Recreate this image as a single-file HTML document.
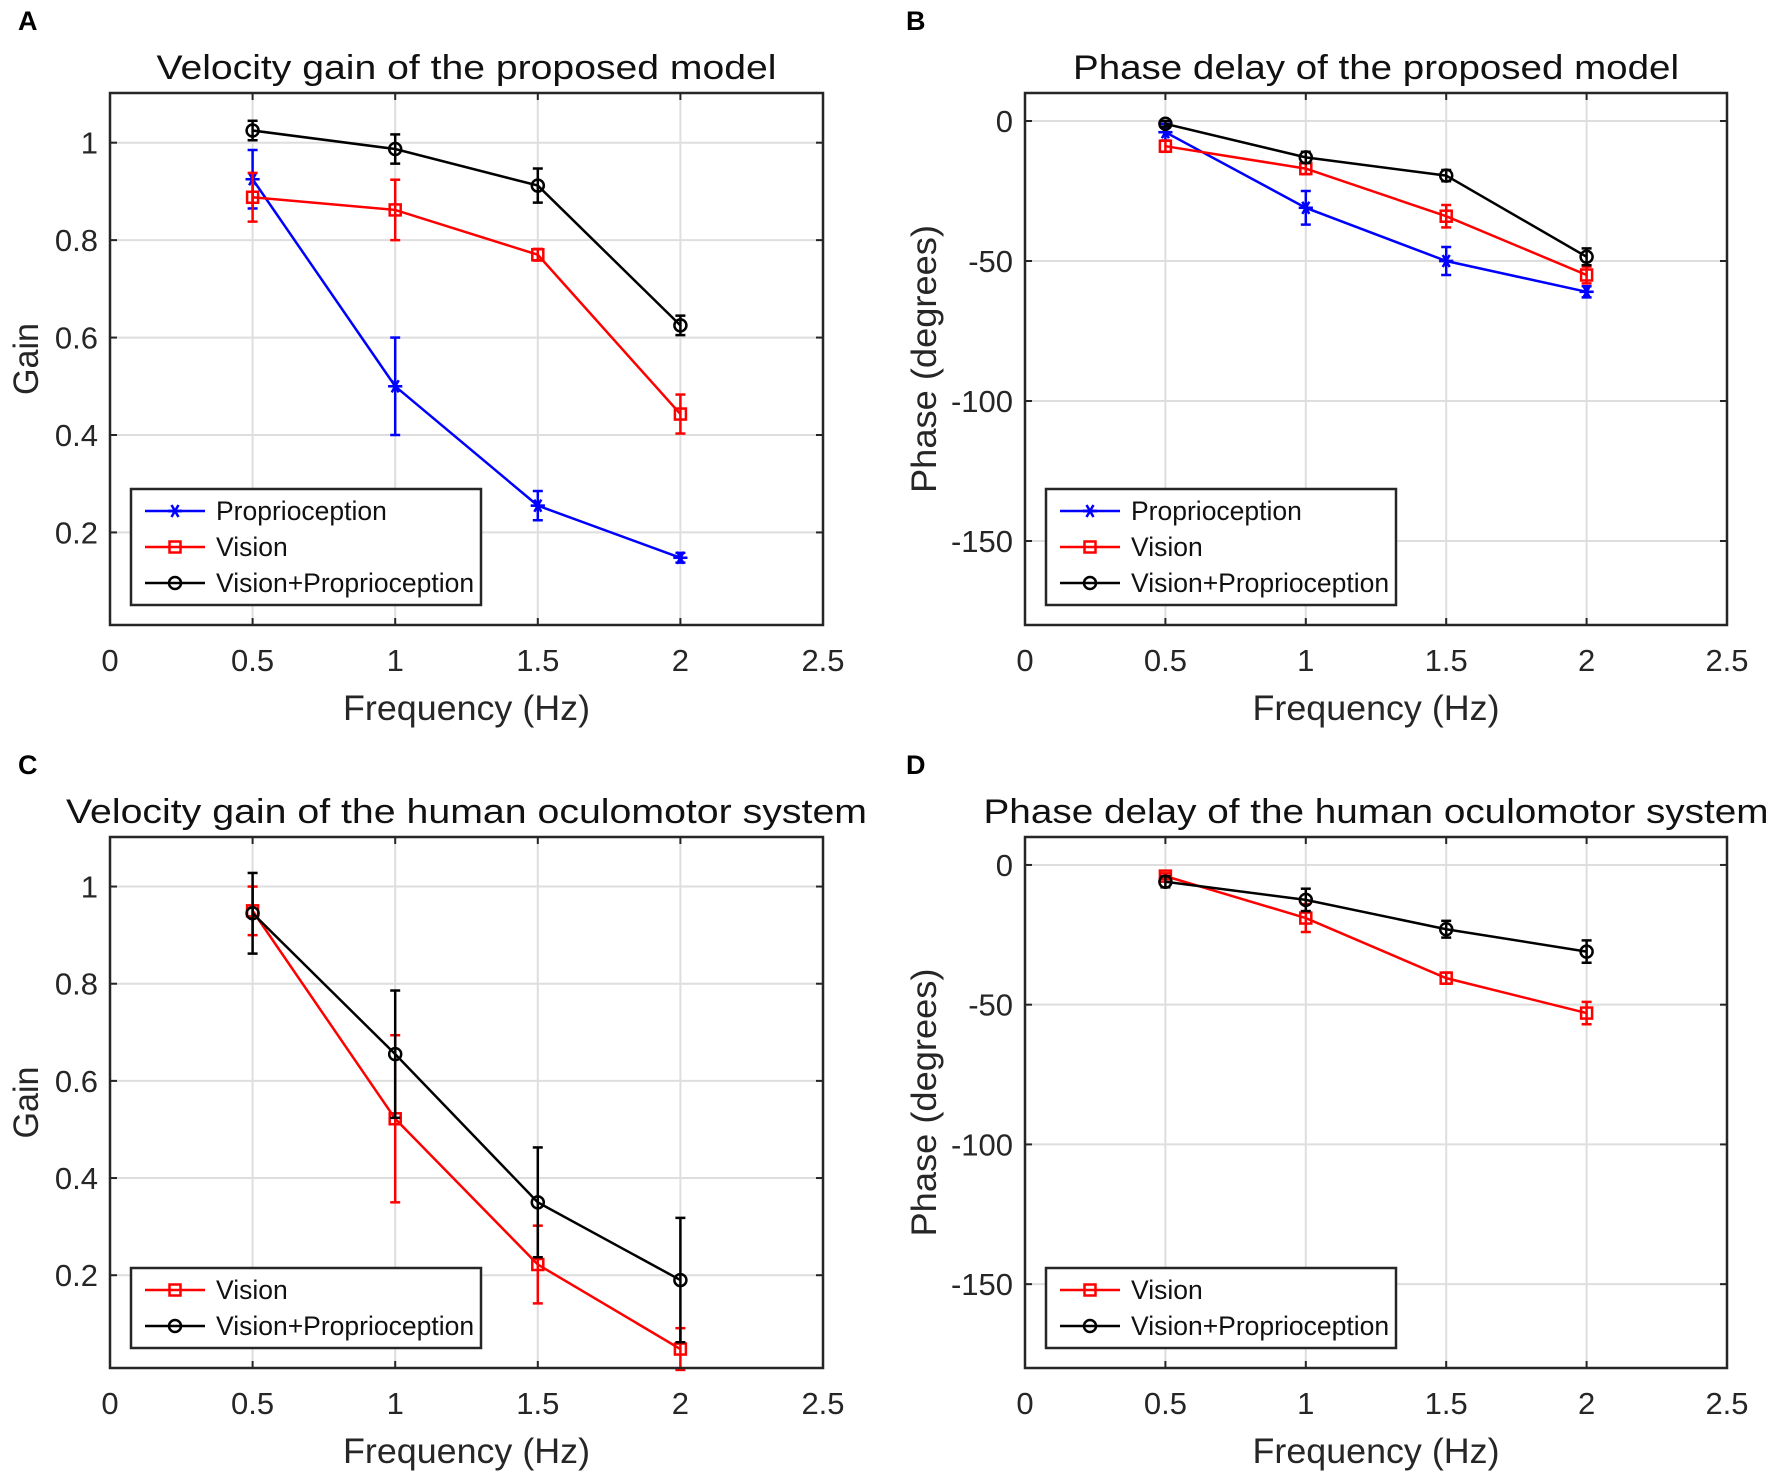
<!DOCTYPE html>
<html><head><meta charset="utf-8"><style>
html,body{margin:0;padding:0;background:#fff;}
svg{display:block;font-family:"Liberation Sans",Arial,sans-serif;}
</style></head><body>
<svg id="fig" width="1772" height="1475" viewBox="0 0 1772 1475"></svg>
<script>
const freqs=[0.5,1,1.5,2];
const xTicks=[0,0.5,1,1.5,2,2.5];
const xTickLabels=["0","0.5","1","1.5","2","2.5"];
const gainTicks=[0.2,0.4,0.6,0.8,1];
const gainTickLabels=["0.2","0.4","0.6","0.8","1"];
const phaseTicks=[-150,-100,-50,0];
const phaseTickLabels=["-150","-100","-50","0"];
// Panel A
const aProp=[0.925,0.5,0.255,0.148];
const aPropErr=[0.06,0.1,0.03,0.01];
const aVis=[0.888,0.862,0.77,0.443];
const aVisErr=[0.05,0.062,0.012,0.04];
const aVP=[1.025,0.987,0.912,0.625];
const aVPErr=[0.02,0.03,0.035,0.02];
// Panel B
const bProp=[-4,-31,-50,-61];
const bPropErr=[3,6,5,2];
const bVis=[-9,-17,-34,-55];
const bVisErr=[2,2,4,3];
const bVP=[-1,-13,-19.5,-48.5];
const bVPErr=[1,2,2,3];
// Panel C
const cVis=[0.95,0.522,0.222,0.048];
const cVisErr=[0.05,0.172,0.08,0.043];
const cVP=[0.945,0.655,0.35,0.19];
const cVPErr=[0.083,0.131,0.113,0.128];
// Panel D
const dVis=[-4,-19,-40.5,-53];
const dVisErr=[1,5,2,4];
const dVP=[-6,-12.5,-23,-31];
const dVPErr=[2,4,3,4];

const NS="http://www.w3.org/2000/svg";
const svg=document.getElementById('fig');
function mk(tag,attrs,parent,name){const e=document.createElementNS(NS,tag);for(const k in attrs)e.setAttribute(k,attrs[k]);


(parent||svg).appendChild(e);return e;}

function panel(p){
  const g=mk('g',{},svg,p.id);
  const sx=v=>p.x0+(v-0)/(2.5)*(p.x1-p.x0);
  const sy=v=>p.y1-(v-p.ymin)/(p.ymax-p.ymin)*(p.y1-p.y0);
  const t=mk('text',{x:p.lx,y:p.ly,'font-size':27,'font-weight':'bold',fill:'#000'},g,'panel-letter');t.textContent=p.letter;
  const ti=mk('text',{x:(p.x0+p.x1)/2,y:p.y0-14,'font-size':34,'text-anchor':'middle',fill:'#111',textLength:p.tw,lengthAdjust:'spacingAndGlyphs'},g,'chart-title');ti.textContent=p.title;
  xTicks.forEach((v,i)=>{if(i>0&&i<xTicks.length-1){mk('line',{x1:sx(v),x2:sx(v),y1:p.y0,y2:p.y1,stroke:'#dedede','stroke-width':2},g,'x-gridline');}});
  p.yt.forEach(v=>{mk('line',{x1:p.x0,x2:p.x1,y1:sy(v),y2:sy(v),stroke:'#dedede','stroke-width':2},g,'y-gridline');});
  xTicks.forEach((v,i)=>{
    mk('line',{x1:sx(v),x2:sx(v),y1:p.y1,y2:p.y1-7,stroke:'#262626','stroke-width':2},g,'x-tick');
    mk('line',{x1:sx(v),x2:sx(v),y1:p.y0,y2:p.y0+7,stroke:'#262626','stroke-width':2},g,'x-tick');
    const tl=mk('text',{x:sx(v),y:p.y1+46,'font-size':31,'text-anchor':'middle',fill:'#262626'},g,'x-tick-label');tl.textContent=xTickLabels[i];
  });
  p.yt.forEach((v,i)=>{
    mk('line',{x1:p.x0,x2:p.x0+7,y1:sy(v),y2:sy(v),stroke:'#262626','stroke-width':2},g,'y-tick');
    mk('line',{x1:p.x1,x2:p.x1-7,y1:sy(v),y2:sy(v),stroke:'#262626','stroke-width':2},g,'y-tick');
    const tl=mk('text',{x:p.x0-12,y:sy(v)+11,'font-size':31,'text-anchor':'end',fill:'#262626'},g,'y-tick-label');tl.textContent=p.ytl[i];
  });
  const xl=mk('text',{x:(p.x0+p.x1)/2,y:p.y1+95,'font-size':35,'text-anchor':'middle',fill:'#262626',textLength:247,lengthAdjust:'spacingAndGlyphs'},g,'x-axis-title');xl.textContent='Frequency (Hz)';
  const yc=(p.y0+p.y1)/2;
  const yl=mk('text',{x:p.yx,y:yc,'font-size':35,'text-anchor':'middle',fill:'#262626',transform:`rotate(-90 ${p.yx} ${yc})`,textLength:p.yw,lengthAdjust:'spacingAndGlyphs'},g,'y-axis-title');yl.textContent=p.ylabel;
  p.series.forEach(s=>{
    const sg=mk('g',{},g,s.name+'-series');
    mk('polyline',{points:freqs.map((f,i)=>sx(f)+','+sy(s.v[i])).join(' '),fill:'none',stroke:s.c,'stroke-width':2.5},sg,s.name+'-line');
    freqs.forEach((f,i)=>{
      const x=sx(f),hi=sy(s.v[i]+s.e[i]),lo=sy(s.v[i]-s.e[i]);
      mk('line',{x1:x,x2:x,y1:hi,y2:lo,stroke:s.c,'stroke-width':2.5},sg,s.name+'-errorbar');
      mk('line',{x1:x-5,x2:x+5,y1:hi,y2:hi,stroke:s.c,'stroke-width':2.5},sg,s.name+'-errorcap');
      mk('line',{x1:x-5,x2:x+5,y1:lo,y2:lo,stroke:s.c,'stroke-width':2.5},sg,s.name+'-errorcap');
      marker(sg,s,x,sy(s.v[i]));
    });
  });
  mk('rect',{x:p.x0,y:p.y0,width:p.x1-p.x0,height:p.y1-p.y0,fill:'none',stroke:'#262626','stroke-width':2.5},g,'axes-box');
  const lg=mk('g',{},g,'legend');
  const lh=p.series.length*36+8;
  mk('rect',{x:p.x0+21,y:p.legBottom-lh,width:350,height:lh,fill:'#fff',stroke:'#262626','stroke-width':2.5},lg,'legend-box');
  p.series.forEach((s,i)=>{
    const y=p.legBottom-lh+22+i*36;
    const eg=mk('g',{},lg,'legend-entry');
    mk('line',{x1:p.x0+35,x2:p.x0+95,y1:y,y2:y,stroke:s.c,'stroke-width':2.5},eg,'legend-line');
    marker(eg,s,p.x0+65,y);
    const tx=mk('text',{x:p.x0+106,y:y+9,'font-size':26.5,fill:'#111'},eg,'legend-label');tx.textContent=s.label;
  });
}
function marker(g,s,x,y){
  if(s.m==='o')mk('circle',{cx:x,cy:y,r:6,fill:'none',stroke:s.c,'stroke-width':2.5},g,'marker-circle');
  else if(s.m==='s')mk('rect',{x:x-5.5,y:y-5.5,width:11,height:11,fill:'none',stroke:s.c,'stroke-width':2.5},g,'marker-square');
  else{[0,60,120].forEach(a=>{const r=a*Math.PI/180;mk('line',{x1:x-7*Math.cos(r),y1:y-7*Math.sin(r),x2:x+7*Math.cos(r),y2:y+7*Math.sin(r),stroke:s.c,'stroke-width':2.5},g,'marker-star');});
   mk('line',{x1:x-7,x2:x+7,y1:y,y2:y,stroke:s.c,'stroke-width':2.5},g,'marker-star');}
}
const P={name:'proprioception',c:'#0000ff',m:'*',label:'Proprioception'};
const V={name:'vision',c:'#ff0000',m:'s',label:'Vision'};
const VP={name:'vision-proprioception',c:'#000',m:'o',label:'Vision+Proprioception'};
panel({id:'panel-a',letter:'A',lx:18,ly:30,title:'Velocity gain of the proposed model',tw:620,x0:110,x1:823,y0:93,y1:625,ymin:0.01,ymax:1.102,yt:gainTicks,ytl:gainTickLabels,ylabel:'Gain',yw:72,yx:38,legBottom:605,
 series:[Object.assign({},P,{v:aProp,e:aPropErr}),Object.assign({},V,{v:aVis,e:aVisErr}),Object.assign({},VP,{v:aVP,e:aVPErr})]});
panel({id:'panel-b',letter:'B',lx:906,ly:30,title:'Phase delay of the proposed model',tw:606,x0:1025,x1:1727,y0:93,y1:625,ymin:-180,ymax:10,yt:phaseTicks,ytl:phaseTickLabels,ylabel:'Phase (degrees)',yw:268,yx:936,legBottom:605,
 series:[Object.assign({},P,{v:bProp,e:bPropErr}),Object.assign({},V,{v:bVis,e:bVisErr}),Object.assign({},VP,{v:bVP,e:bVPErr})]});
panel({id:'panel-c',letter:'C',lx:18,ly:774,title:'Velocity gain of the human oculomotor system',tw:801,x0:110,x1:823,y0:837,y1:1368,ymin:0.009,ymax:1.102,yt:gainTicks,ytl:gainTickLabels,ylabel:'Gain',yw:72,yx:38,legBottom:1348,
 series:[Object.assign({},V,{v:cVis,e:cVisErr}),Object.assign({},VP,{v:cVP,e:cVPErr})]});
panel({id:'panel-d',letter:'D',lx:906,ly:774,title:'Phase delay of the human oculomotor system',tw:785,x0:1025,x1:1727,y0:837,y1:1368,ymin:-180,ymax:10,yt:phaseTicks,ytl:phaseTickLabels,ylabel:'Phase (degrees)',yw:268,yx:936,legBottom:1348,
 series:[Object.assign({},V,{v:dVis,e:dVisErr}),Object.assign({},VP,{v:dVP,e:dVPErr})]});
</script>
</body></html>
